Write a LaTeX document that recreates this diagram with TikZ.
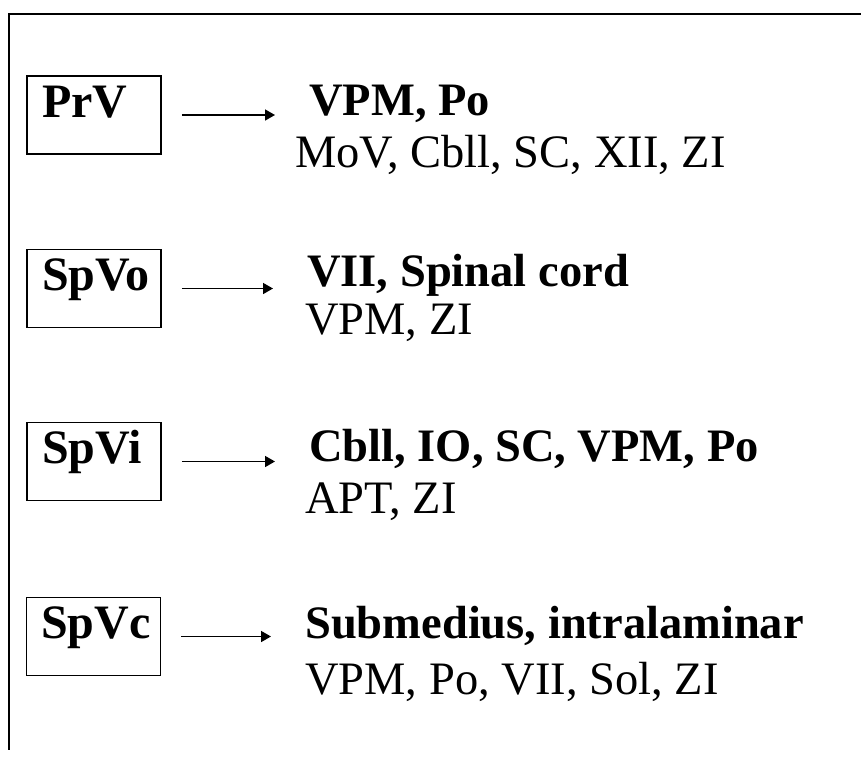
\documentclass[tikz,border=0pt]{standalone}
\usepackage{fontspec}
\setmainfont{Liberation Serif}
\usetikzlibrary{arrows.meta}
\tikzset{
  x=1pt, y=-1pt,
  frameline/.style={line width=2pt},
  srcbox/.style={draw, line width=1.6pt, minimum width=134pt, minimum height=78pt, inner sep=0pt},
  srclabel/.style={anchor=base west, inner sep=0pt, font=\fontsize{48}{52}\selectfont\bfseries},
  boldtxt/.style={anchor=base west, inner sep=0pt, font=\fontsize{46.5}{50}\selectfont\bfseries},
  regtxt/.style={anchor=base west, inner sep=0pt, font=\fontsize{46.5}{50}\selectfont},
  arr/.style={line width=1.6pt, -{Triangle[length=10pt,width=11pt]}, shorten <=20pt, shorten >=34pt}
}
\begin{document}
\begin{tikzpicture}
\useasboundingbox (0,0) rectangle (861,758);
% frame
\coordinate (ftr) at (861,14);
\coordinate (ftl) at (9,14);
\coordinate (fbl) at (9,750);
\draw[frameline] (ftr) -- (ftl) -- (fbl);

% row 1
\node[srcbox] (prv) at (94,115) {};
\node[srclabel] (prvl) at (42,117) {PrV};
\node[boldtxt] (t1) at (309,115) {VPM, Po};
\node[regtxt] (r1) at (295,167) {MoV, Cbll, SC, XII, ZI};
\draw[arr] (prv.east) -- (prv.east -| t1.west);

% row 2
\node[srcbox] (spvo) at (94,288.5) {};
\node[srclabel] (spvol) at (42,290) {SpVo};
\node[boldtxt] (t2) at (307,286) {VII, Spinal cord};
\node[regtxt] (r2) at (305,334) {VPM, ZI};
\draw[arr] (spvo.east) -- (spvo.east -| t2.west);

% row 3
\node[srcbox] (spvi) at (94,461.5) {};
\node[srclabel] (spvil) at (42,463) {SpVi};
\node[boldtxt] (t3) at (309,461) {Cbll, IO, SC, VPM, Po};
\node[regtxt] (r3) at (305,513) {APT, ZI};
\draw[arr] (spvi.east) -- (spvi.east -| t3.west);

% row 4
\node[srcbox] (spvc) at (93.5,636.5) {};
\node[srclabel] (spvcl) at (41,638) {SpVc};
\node[boldtxt] (t4) at (305,638) {Submedius, intralaminar};
\node[regtxt] (r4) at (305,694) {VPM, Po, VII, Sol, ZI};
\draw[arr] (spvc.east) -- (spvc.east -| t4.west);
\end{tikzpicture}
\end{document}
